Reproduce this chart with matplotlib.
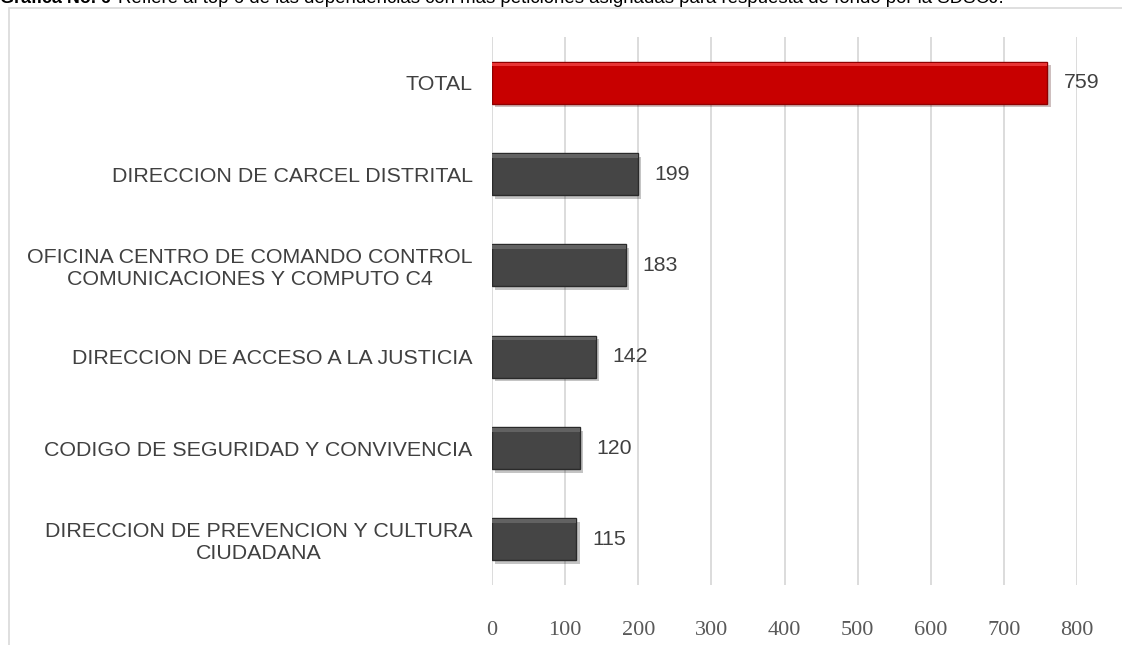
import matplotlib.pyplot as plt
import matplotlib.patheffects as pe
from matplotlib.patches import Rectangle

categories = ['TOTAL',
              'DIRECCION DE CARCEL DISTRITAL',
              'OFICINA CENTRO DE COMANDO CONTROL\nCOMUNICACIONES Y COMPUTO C4',
              'DIRECCION DE ACCESO A LA JUSTICIA',
              'CODIGO DE SEGURIDAD Y CONVIVENCIA',
              'DIRECCION DE PREVENCION Y CULTURA\nCIUDADANA']
values = [759, 199, 183, 142, 120, 115]
xticks = [0, 100, 200, 300, 400, 500, 600, 700, 800]

title_bold = 'Gráfica No. 6'
title_rest = 'Refiere al top 6 de las dependencias con más peticiones asignadas para respuesta de fondo por la SDSCJ.'

fig = plt.figure(figsize=(11.22, 6.45), dpi=100)
ax = fig.add_axes([0.4385, 0.093, 0.5215, 0.8494])

# outer frame of the chart object (cut at right and bottom)
fig.patches.append(Rectangle((9 / 1122, -0.1), 1.2, 1 - 8 / 645 + 0.1,
                             transform=fig.transFigure, fill=False,
                             edgecolor='#D9D9D9', linewidth=1.2))

pos = list(range(len(categories)))
colors = ['#C80000'] + ['#454545'] * (len(values) - 1)
edges = ['#8E0000'] + ['#2A2A2A'] * (len(values) - 1)
bars = ax.barh(pos, values, height=0.46, color=colors, edgecolor=edges,
               linewidth=1.0, zorder=3)
for b in bars:
    b.set_path_effects([pe.SimplePatchShadow(offset=(2.5, -2.5), alpha=0.25),
                        pe.Normal()])
# light bevel on top edge
hl = ['#E83434'] + ['#626262'] * (len(values) - 1)
ax.barh([p - 0.2 for p in pos], values, height=0.04, color=hl,
        linewidth=0, zorder=4)

for p, v in zip(pos, values):
    ax.annotate(str(v), (v, p), xytext=(12, 0), textcoords='offset points',
                va='center', ha='left', fontsize=15.3, color='#404040',
                family='Liberation Sans')

ax.set_xlim(0, 800)
ax.set_ylim(len(categories) - 0.5, -0.5)
ax.set_xticks(xticks)
ax.set_xticklabels([str(t) for t in xticks], family='Liberation Serif',
                   fontsize=16, color='#595959')
ax.set_yticks(pos)
ax.set_yticklabels(categories, family='Liberation Sans', fontsize=15.4,
                   color='#404040', multialignment='center', linespacing=1.2)
ax.tick_params(axis='both', length=0)
ax.tick_params(axis='y', pad=14)
ax.tick_params(axis='x', pad=26)
ax.grid(axis='x', color='#D9D9D9', linewidth=1.3, zorder=0)
ax.set_axisbelow(True)
for s in ax.spines.values():
    s.set_visible(False)

fig.text(0.0, 1 - 3 / 645, title_bold, fontsize=12.9, fontweight='bold',
         family='Liberation Sans', va='baseline', ha='left', color='black')
fig.text(118 / 1122, 1 - 3 / 645, title_rest, fontsize=13.4,
         family='Liberation Sans', va='baseline', ha='left', color='black')

fig.savefig('out.png', dpi=100)
